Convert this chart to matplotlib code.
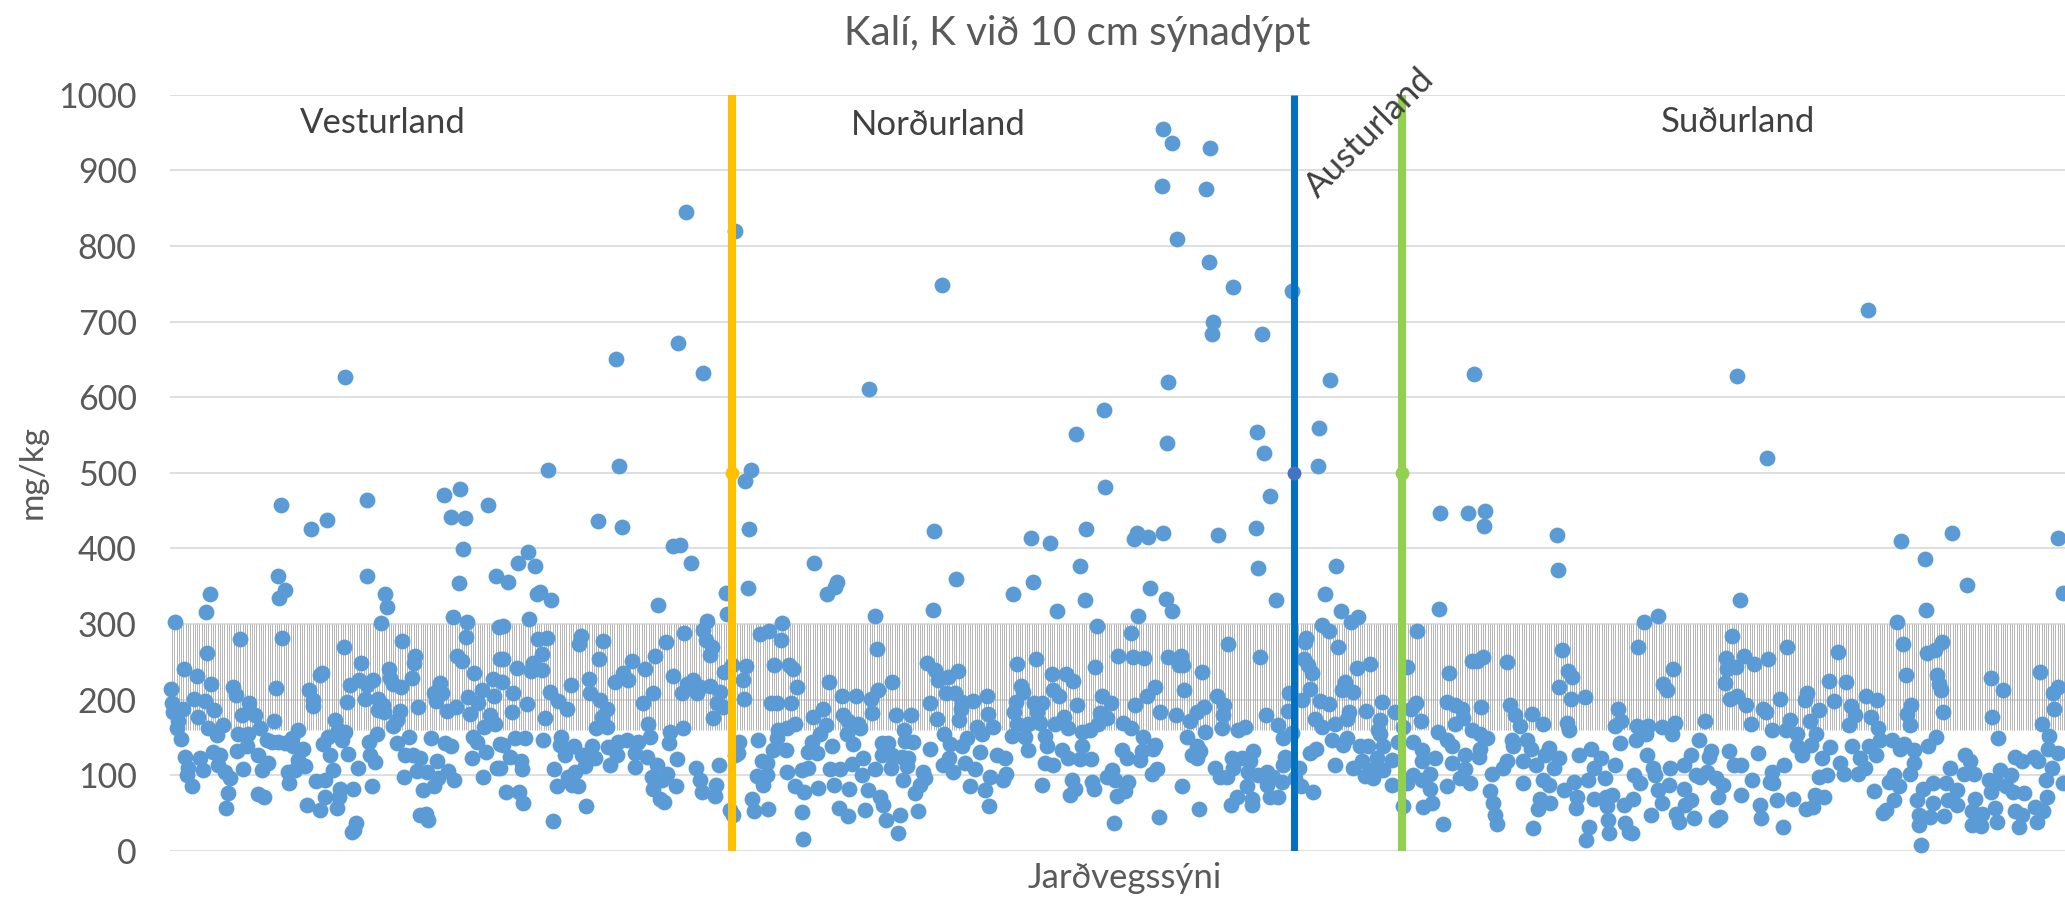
"""Kalí við 10 cm sýnadýpt: scatter of soil samples with the target band and region dividers."""

import matplotlib
matplotlib.use("Agg")
import matplotlib.pyplot as plt
import numpy as np

matplotlib.rcParams["font.family"] = ["Lato", "DejaVu Sans"]

# (sample position, K in mg/kg)
samples_a = [
    (5,303),(1,214),(36,316),(40,340),(37,261),(14,240),(27,231),(41,221),(2,195),(24,201),(35,198),(3,184),
    (13,188),(44,186),(28,177),(8,171),(7,162),(11,148),(38,162),(53,166),(47,153),(15,124),(30,123),(43,131),
    (50,127),(18,109),(33,107),(17,100),(48,113),(55,104),(22,85),(60,96),(58,76),(56,56),(63,217),(66,206),
    (70,280),(79,196),(72,179),(85,179),(68,155),(78,155),(67,132),(73,108),(77,138),(88,127),(90,162),(97,146),
    (102,144),(98,116),(92,107),(88,75),(94,71),(104,172),(106,215),(108,363),(115,345),(109,334),(112,282),
    (111,457),(141,425),(157,437),(197,464),(197,364),(215,340),(217,323),(211,301),(232,277),(174,270),(191,248),
    (219,241),(150,232),(152,235),(139,213),(180,219),(189,226),(203,226),(197,219),(220,228),(223,221),(231,216),
    (177,197),(195,201),(208,201),(213,193),(208,186),(214,183),(143,199),(143,191),(242,228),(244,248),(245,257),
    (248,190),(230,185),(227,173),(223,165),(165,173),(168,160),(175,157),(158,151),(172,146),(153,141),(160,127),
    (128,159),(122,149),(115,142),(108,144),(123,138),(133,134),(128,120),(135,112),(118,104),(125,107),(119,89),
    (146,92),(155,94),(163,107),(178,128),(188,109),(207,154),(199,144),(200,127),(205,117),(227,142),(239,150),
    (235,127),(243,127),(250,122),(247,106),(257,104),(234,97),(183,82),(202,85),(170,82),(169,71),(155,71),
    (137,60),(150,54),(167,57),(186,36),(182,25),(184,27),(250,47),(256,49),(258,41),(253,80),(264,86),(268,96),
    (278,106),(284,94),(267,118),(261,149),(275,142),(281,138),(264,208),(270,222),(272,208),(266,198),(277,185),
    (286,190),(283,309),(297,303),(296,283),(287,258),(292,251),(304,235),(298,203),(312,213),(308,195),(324,205),
    (323,227),(300,181),(320,179),(314,164),(325,168),(303,151),(307,144),(302,123),(316,130),(313,98),(327,109),
    (274,471),(290,479),(281,442),(295,440),(293,399),(289,354),(318,457),(326,364),(329,296),(330,254),(330,141),
]
samples_b = [
    (378,504),(449,509),(428,436),(452,428),(503,403),(510,404),(521,380),(358,395),(348,380),(365,377),(338,355),
    (367,340),(370,342),(381,332),(488,325),(359,307),(333,297),(368,280),(377,282),(411,284),(409,273),(433,278),
    (372,260),(429,254),(333,254),(363,248),(347,242),(361,238),(372,239),(332,223),(419,227),(401,219),(380,210),
    (343,208),(420,209),(357,194),(388,198),(397,187),(342,184),(375,175),(430,199),(437,188),(432,177),(426,162),
    (437,163),(445,223),(453,235),(458,226),(462,251),(475,241),(485,257),(496,276),(514,288),(537,304),(533,292),
    (536,279),(542,270),(540,259),(556,341),(557,313),(578,348),(579,426),(575,489),(581,503),(483,208),(473,195),
    (478,168),(503,231),(512,208),(517,221),(523,226),(527,208),(530,217),(540,218),(550,210),(547,195),(553,190),
    (543,176),(554,236),(562,246),(576,244),(573,226),(574,201),(590,287),(599,290),(612,301),(611,279),(604,246),
    (619,246),(623,240),(627,216),(659,223),(601,196),(607,196),(621,196),(625,168),(617,162),(608,160),(345,149),
    (355,149),(333,140),(373,147),(391,151),(390,140),(404,138),(395,127),(422,138),(412,127),(425,123),(415,112),
    (440,114),(438,137),(448,144),(457,146),(447,127),(468,144),(480,151),(500,157),(513,162),(499,142),(465,129),
    (477,124),(465,111),(487,113),(497,102),(482,98),(492,93),(483,82),(490,69),(494,64),(506,86),(507,121),
    (526,109),(530,94),(532,78),(546,87),(545,73),(549,113),(340,124),(351,118),(352,108),(330,109),(336,77),
    (349,77),(353,63),(384,108),(387,85),(398,98),(405,104),(402,87),(408,86),(416,59),(383,39),(560,54),(563,47),
    (569,144),(568,129),(565,127),(588,146),(592,118),(597,116),(587,99),(597,100),(593,87),(582,69),(584,52),
    (598,55),(617,104),(625,86),(632,107),(638,109),(634,77),(648,83),(632,51),(633,16),(603,133),(616,133),
    (607,149),(638,130),(647,129),(642,144),(650,155),(656,166),(662,138),(643,177),(653,188),(673,179),(678,171),
    (688,168),(690,162),(677,155),(683,141),(672,205),(686,204),(701,201),(708,213),(722,223),(702,182),(726,179),
    (741,179),(705,310),(707,267),(763,319),(764,423),(786,360),(667,356),(644,380),(657,340),(665,349),(712,143),
    (718,142),(712,127),(722,127),(732,124),(738,123),(734,160),(735,145),(743,144),(760,134),(737,112),(721,110),
    (693,122),(682,115),(670,108),(660,108),(705,108),(692,100),(664,87),(679,82),(733,94),(753,104),(755,96),
    (750,87),(745,76),(698,80),(710,71),(713,60),(695,54),(669,57),(678,46),(716,41),(730,47),(748,52),(728,24),
    (757,248),(765,239),(768,226),(778,230),(788,238),(776,208),(785,208),(760,196),(792,197),(803,198),(817,204),
    (791,188),(767,174),(789,173),(818,181),(807,164),(823,163),(812,155),(774,155),(780,141),(797,149),(792,138),
    (810,131),(827,127),(779,122),(773,113),(783,104),(795,116),(805,108),(800,85),(815,80),(820,98),(819,59),
]
samples_c = [
    (934,583),(906,551),(997,539),(1087,554),(1149,559),(1094,526),(1148,509),(935,481),(1100,469),(1270,447),
    (1298,447),(1315,450),(1314,430),(916,426),(1086,427),(861,413),(880,407),(964,412),(967,420),(978,415),
    (993,420),(1048,417),(910,376),(1088,374),(1166,376),(863,355),(843,339),(980,347),(915,332),(996,333),
    (1106,331),(1155,340),(887,317),(1002,317),(968,311),(1171,317),(1188,309),(1181,302),(1269,320),(927,297),
    (961,288),(1152,299),(1159,290),(1247,290),(1136,282),(1135,276),(1058,274),(1168,270),(1090,256),(948,258),
    (963,256),(974,255),(998,256),(1011,257),(847,247),(866,253),(925,243),(1009,246),(1013,245),(1134,254),
    (1138,246),(1142,235),(1187,242),(1200,247),(1237,243),(1279,235),(1302,251),(1313,256),(1307,251),(882,234),
    (896,234),(903,224),(1032,236),(851,218),(853,210),(883,212),(889,204),(985,216),(1014,212),(977,205),(932,205),
    (1119,209),(1140,214),(1132,199),(1175,223),(1172,212),(1183,210),(846,197),(864,195),(872,196),(907,193),
    (941,195),(965,193),(1047,204),(1054,193),(1034,190),(1027,184),(990,184),(1006,179),(1053,179),(844,183),
    (867,184),(930,182),(937,175),(894,177),(1118,185),(1096,180),(1150,198),(1159,194),(1196,185),(1212,197),
    (1179,183),(1246,196),(1241,188),(1225,183),(1277,197),(1285,193),(1292,188),(1311,190),(1145,174),(1177,174),
    (1210,173),(1251,172),(1293,176),(1285,168),(847,168),(858,168),(870,169),(885,168),(898,162),(953,169),(961,162),
    (1020,171),(1052,162),(1035,157),(1068,159),(1075,163),(1108,166),(1152,164),(1165,168),(1233,164),(1208,160),
    (1268,157),(1302,160),(1310,155),(842,152),(855,151),(875,152),(912,157),(920,160),(928,168),(973,150),(1017,150),
    (1113,149),(1122,156),(1210,155),(1317,149),(1277,146),(858,133),(877,138),(892,133),(912,138),(952,133),(985,140),
    (972,132),(983,135),(1027,138),(1030,132),(1083,132),(1162,147),(1173,140),(1177,149),(1140,129),(1146,134),
    (1243,144),(1190,138),(1198,138),(1213,138),(1228,144),(1252,133),(1282,138),(1310,135),(835,122),(875,116),
    (883,113),(898,122),(910,121),(921,121),(957,122),(970,120),(1022,127),(1027,122),(1062,122),(1072,122),(1080,118),
    (1115,124),(1113,113),(1129,109),(1165,113),(1192,118),(1207,122),(1222,120),(1252,118),(1265,122),(1282,116),
    (1295,127),(1309,124),(1045,110),(942,107),(987,108),(982,102),(1063,109),(1078,104),(1097,104),(1183,110),
    (1200,107),(1213,107),(1295,108),(1243,100),(1260,102),(836,102),(833,93),(937,98),(945,93),(958,91),(1050,98),
    (1057,98),(1088,100),(1103,98),(1112,91),(1125,96),(1195,99),(1203,96),(1222,87),(1237,89),(1252,93),(1290,96),
    (1300,89),(1322,101),(872,87),(902,94),(905,82),(900,74),(922,91),(924,82),(955,79),(947,73),(1012,85),(1077,85),
    (1097,87),(1131,86),(1143,77),(1260,82),(1277,86),(1320,79),(1067,71),(1082,69),(1100,71),(1108,71),(1061,60),
    (1082,60),(1029,55),(989,45),(944,36),(1233,59),(1253,58),(1262,63),(1323,63),(1273,35),(1325,47),(1327,35),
]
samples_d = [
    (1597,520),(1387,417),(1388,371),(1782,420),(1731,409),(1755,386),(1888,413),(1797,352),(1893,341),(1570,331),
    (1756,319),(1488,311),(1474,302),(1727,302),(1562,284),(1468,270),(1392,265),(1617,270),(1733,274),(1772,276),
    (1765,265),(1757,262),(1668,263),(1556,255),(1574,257),(1598,254),(1584,247),(1566,243),(1557,241),(1337,250),
    (1503,240),(1398,238),(1402,230),(1736,233),(1767,232),(1769,221),(1771,212),(1870,236),(1821,229),(1833,212),
    (1493,220),(1497,212),(1389,216),(1555,222),(1659,224),(1676,223),(1888,216),(1883,208),(1637,208),(1635,199),
    (1401,201),(1415,203),(1560,201),(1567,205),(1610,201),(1696,204),(1707,199),(1664,198),(1340,193),(1448,188),
    (1576,193),(1593,188),(1596,184),(1649,186),(1681,191),(1741,193),(1773,183),(1884,187),(1362,181),(1345,179),
    (1737,181),(1822,177),(1685,179),(1701,177),(1350,165),(1373,168),(1397,169),(1399,159),(1451,171),(1445,165),
    (1467,165),(1478,165),(1492,164),(1505,169),(1502,154),(1476,155),(1535,172),(1581,168),(1602,160),(1620,173),
    (1616,160),(1640,171),(1646,155),(1679,166),(1740,166),(1708,162),(1872,167),(1342,147),(1357,147),(1343,138),
    (1361,134),(1529,146),(1466,146),(1450,142),(1627,155),(1641,140),(1627,138),(1632,127),(1660,137),(1710,147),
    (1722,147),(1734,141),(1744,133),(1730,134),(1766,151),(1758,138),(1682,139),(1699,138),(1828,149),(1879,152),
    (1878,135),(1888,129),(1541,132),(1539,124),(1559,132),(1588,129),(1795,127),(1379,136),(1389,122),(1375,127),
    (1409,127),(1421,134),(1431,123),(1477,127),(1521,127),(1845,124),(1864,124),(1852,118),(1868,118),(1652,122),
    (1670,116),(1690,122),(1706,127),(1337,118),(1353,118),(1366,114),(1384,110),(1333,109),(1424,110),(1445,114),
    (1614,113),(1564,113),(1571,114),(1500,110),(1514,113),(1483,110),(1800,118),(1744,116),(1780,110),(1882,110),
    (1657,100),(1649,98),(1674,102),(1688,102),(1695,110),(1602,104),(1537,104),(1526,100),(1485,100),(1464,100),
    (1740,102),(1724,100),(1794,102),(1804,101),(1830,107),(1819,93),(1841,100),(1876,93),(1893,90),(1353,90),
    (1373,94),(1379,87),(1404,91),(1418,93),(1435,96),(1470,89),(1499,87),(1530,98),(1546,96),(1553,87),(1582,93),
    (1600,91),(1603,89),(1719,91),(1729,86),(1763,90),(1776,90),(1827,89),(1836,85),(1854,76),(1394,80),(1442,74),
    (1488,80),(1514,82),(1571,74),(1654,71),(1645,74),(1704,79),(1787,80),(1753,82),(1821,78),(1843,78),(1877,71),
    (1370,69),(1407,71),(1424,69),(1436,71),(1463,68),(1548,71),(1521,67),(1724,67),(1747,67),(1778,67),(1805,69),
    (1607,67),(1623,68),(1380,63),(1590,60),(1763,63),(1787,60),(1825,56),(1865,58),(1368,55),(1406,56),(1437,59),
    (1454,60),(1492,63),(1515,60),(1636,55),(1643,58),(1713,50),(1716,54),(1802,52),(1845,52),(1873,52),(1812,49),
    (1749,47),(1760,45),(1774,46),(1852,47),(1481,47),(1506,49),(1591,43),(1524,43),(1550,45),(1546,41),(1438,41),
    (1509,38),(1455,36),(1749,34),(1802,34),(1811,33),(1827,38),(1849,32),(1867,38),(1419,32),(1459,25),(1462,23),
    (1439,23),(1613,32),(1363,30),(1416,14),(1751,8),
]
# outliers above 600 mg/kg
samples_high = [
    (175,627),(446,650),(508,672),(533,632),(516,845),(565,820),(699,611),(772,748),(993,955),(1002,936),(1040,930),
    (992,879),(1036,875),(1007,809),(1039,779),(1063,745),(1043,699),(1042,683),(1092,683),(1122,740),(1160,622),
    (998,620),(1304,630),(1567,628),(1698,715),
]

y_ticks = [0, 100, 200, 300, 400, 500, 600, 700, 800, 900, 1000]
band_low = 160
band_high = 300
dividers = [562, 1124, 1232]
divider_colors = ["#FFC000", "#0070C0", "#92D050"]
divider_marker_colors = ["#FFC000", "#4472C4", "#92D050"]
divider_widths = [5.8, 5.0, 5.8]
divider_values = [0, 500, 1000]
x_end = 1895

W, H = 2065, 897
fig = plt.figure(figsize=(W / 100, H / 100), dpi=100)
ax = fig.add_axes([170 / W, (H - 850.7) / H, (W - 170) / W, (850.7 - 94.7) / H])

# target band is drawn as one thin error bar per sample
ax.vlines(np.arange(2, x_end, 2.28), band_low, band_high, color="#999999", linewidth=0.5, zorder=1)

all_samples = samples_a + samples_b + samples_c + samples_d + samples_high
sx = [p[0] for p in all_samples]
sy = [p[1] for p in all_samples]
ax.scatter(sx, sy, s=130, color="#5B9BD5", linewidths=0, zorder=3, clip_on=False)

for x, c, mc, w in zip(dividers, divider_colors, divider_marker_colors, divider_widths):
    ax.plot([x] * 3, divider_values, color=c, linewidth=w, solid_capstyle="butt", zorder=4,
            marker="o", markevery=[1], markersize=10, markerfacecolor=mc, markeredgewidth=0)

ax.set_xlim(0, x_end)
ax.set_ylim(0, 1000)
ax.set_yticks(y_ticks)
ax.set_xticks([])
ax.grid(axis="y", color="#D9D9D9", linewidth=1.2, zorder=0)
ax.set_axisbelow(True)
for s in ax.spines.values():
    s.set_visible(False)
ax.tick_params(axis="y", length=0, pad=24, labelsize=24.5, labelcolor="#595959")

ax.text(213, 962, "Vesturland", fontsize=25, color="#404040", ha="center", va="center")
ax.text(768, 960, "Norðurland", fontsize=25, color="#404040", ha="center", va="center")
ax.text(1568, 964, "Suðurland", fontsize=25, color="#404040", ha="center", va="center")
ax.text(1200, 949, "Austurland", fontsize=25, color="#404040", ha="center", va="center",
        rotation=45, rotation_mode="anchor", zorder=5)

fig.text(1077 / W, 1 - 33 / H, "Kalí, K við 10 cm sýnadýpt", fontsize=29, color="#595959", ha="center", va="center")
fig.text(1125 / W, 1 - 878 / H, "Jarðvegssýni", fontsize=25, color="#595959", ha="center", va="center")
fig.text(33 / W, 1 - 472 / H, "mg/kg", fontsize=24, color="#595959", ha="center", va="center", rotation=90)

fig.savefig("out.png", dpi=100)
